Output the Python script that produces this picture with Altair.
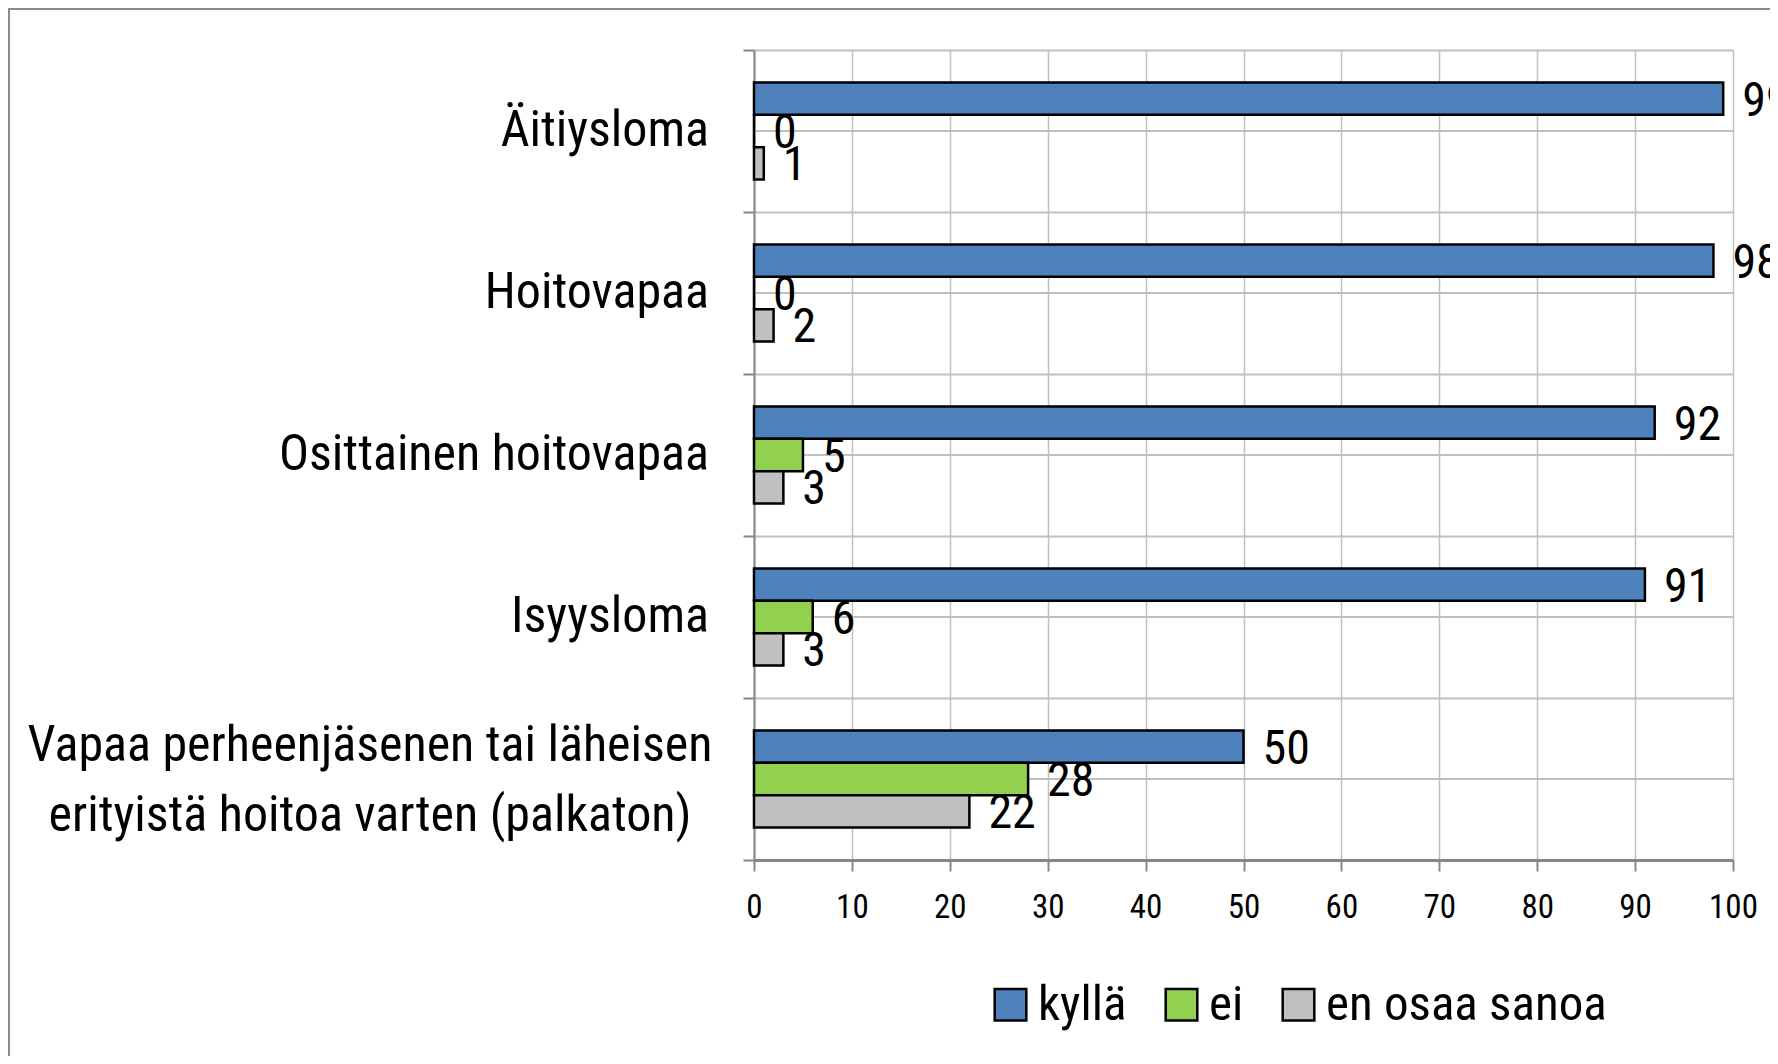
import altair as alt
import pandas as pd

categories = [
    "Äitiysloma",
    "Hoitovapaa",
    "Osittainen hoitovapaa",
    "Isyysloma",
    "Vapaa perheenjäsenen tai läheisen|erityistä hoitoa varten (palkaton)",
]
series = ["kyllä", "ei", "en osaa sanoa"]
kylla = [99, 98, 92, 91, 50]
ei = [0, 0, 5, 6, 28]
en_osaa_sanoa = [1, 2, 3, 3, 22]
colors = ["#4F81BD", "#92D050", "#C0C0C0"]
x_ticks = [0, 10, 20, 30, 40, 50, 60, 70, 80, 90, 100]

rows = []
for i, c in enumerate(categories):
    for s, vals in zip(series, [kylla, ei, en_osaa_sanoa]):
        rows.append({"category": c, "series": s, "value": vals[i]})
df = pd.DataFrame(rows)
cat_df = pd.DataFrame({"category": categories})
single_df = pd.DataFrame({"category": [c for c in categories if "|" not in c]})
multi_df = pd.DataFrame({"category": [c for c in categories if "|" in c]})
frame_df = pd.DataFrame({"a": [0]})

FONT = "Roboto Condensed, DejaVu Sans Condensed, sans-serif"
W, H = 979, 810

y_sorted = alt.Y("category:N", sort=categories)

y_enc = alt.Y(
    "category:N",
    sort=categories,
    scale=alt.Scale(paddingInner=0, paddingOuter=0),
    axis=alt.Axis(
        title=None,
        tickBand="extent",
        grid=True,
        gridColor="#C0C0C0",
        gridWidth=2,
        domainColor="#868686",
        domainWidth=2,
        tickColor="#868686",
        tickWidth=2,
        tickSize=11,
        labels=False,
    ),
)

x_enc = alt.X(
    "value:Q",
    scale=alt.Scale(domain=[0, 100], nice=False),
    axis=alt.Axis(
        values=x_ticks,
        title=None,
        grid=True,
        gridColor="#C0C0C0",
        gridWidth=1.5,
        domainColor="#868686",
        domainWidth=3,
        tickColor="#868686",
        tickWidth=2,
        tickSize=11,
        labelFont=FONT,
        labelFontSize=33,
        labelColor="black",
        labelPadding=20,
        labelFlush=False,
    ),
)

yoff = alt.YOffset(
    "series:N", sort=series, scale=alt.Scale(paddingInner=0, paddingOuter=1)
)

color_enc = alt.Color(
    "series:N",
    sort=series,
    scale=alt.Scale(domain=series, range=colors),
    legend=alt.Legend(
        title=None,
        orient="none",
        direction="horizontal",
        legendX=232,
        legendY=930,
        symbolType="square",
        symbolSize=1000,
        symbolStrokeColor="black",
        symbolStrokeWidth=2.5,
        symbolOpacity=1,
        labelFont=FONT,
        labelFontSize=49,
        labelColor="black",
        labelOffset=3,
        columnPadding=30,
        labelLimit=0,
    ),
)

mid_rules = alt.Chart(cat_df).mark_rule(color="#C0C0C0", strokeWidth=2).encode(
    y=y_sorted
)

bars = alt.Chart(df).mark_bar(stroke="black", strokeWidth=2.5).encode(
    x=x_enc, y=y_enc, yOffset=yoff, color=color_enc
)

labels = alt.Chart(df).mark_text(
    align="left", baseline="middle", dx=19, dy=3, font=FONT, fontSize=48, color="black"
).encode(
    x="value:Q",
    y=y_sorted,
    yOffset=alt.YOffset("series:N", sort=series),
    text="value:Q",
)

cat_single = alt.Chart(single_df).mark_text(
    align="right", baseline="middle", font=FONT, fontSize=50, color="black"
).encode(x=alt.value(-45), y=y_sorted, text="category:N")

cat_multi = alt.Chart(multi_df).mark_text(
    align="center", baseline="middle", font=FONT, fontSize=50, color="black",
    lineBreak="|", lineHeight=70, dy=-33,
).encode(x=alt.value(-384), y=y_sorted, text="category:N")

frame = alt.Chart(frame_df).mark_rect(
    fill="transparent", stroke="#8C8C8C", strokeWidth=2
).encode(
    x=alt.value(-745), x2=alt.value(1200), y=alt.value(-41), y2=alt.value(1200)
)

chart = (
    alt.layer(mid_rules, bars, labels, cat_single, cat_multi, frame)
    .properties(
        width=W,
        height=H,
        autosize=alt.AutoSizeParams(type="none"),
        padding={"left": 746, "top": 42, "right": 37, "bottom": 196},
        background="white",
    )
    .configure_view(stroke=None)
)

chart.save("out.html", embed_options={"renderer": "svg", "actions": False})
